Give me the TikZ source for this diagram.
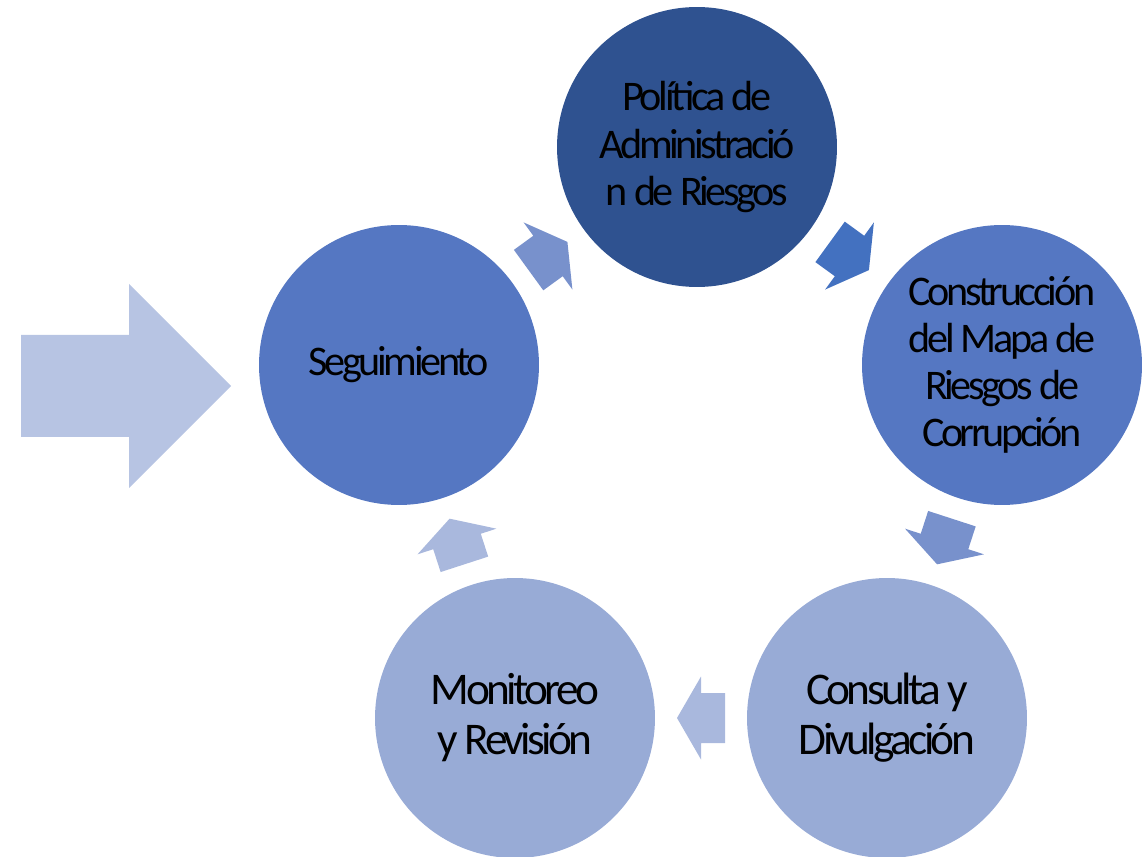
\documentclass[tikz,border=0pt]{standalone}
\usepackage{fontspec}
\newfontfamily\calibri{Carlito}[LetterSpace=-8]
\usetikzlibrary{calc}
\definecolor{azulosc}{RGB}{47,82,144}
\definecolor{azulmed}{RGB}{85,119,194}
\definecolor{azulcla}{RGB}{152,171,214}
\definecolor{flechagrande}{RGB}{183,196,227}
\definecolor{flechaA}{RGB}{120,145,204}
\definecolor{flechaB}{RGB}{67,113,192}
\definecolor{flechaC}{RGB}{169,184,221}
\tikzset{
  etapa/.style={circle, minimum size=5.6cm, inner sep=0pt, align=center, text=black,
    font=\calibri\fontsize{24}{26.8}\selectfont},
  etapagrande/.style={etapa, font=\calibri\fontsize{25.8}{28.4}\selectfont},
  pics/flecha/.style={code={
    \fill[#1] (-24,-25) -- (0,-25) -- (0,-41.5) -- (24,0) -- (0,41.5) -- (0,25) -- (-24,25) -- cycle;
  }}
}

\begin{document}
\begin{tikzpicture}[x=0.02cm, y=0.02cm]
    \useasboundingbox (0,0) rectangle (1146,856);

    % Flecha de entrada
    \fill[flechagrande] (21,419) -- (129,419) -- (129,368) -- (231,470)
        -- (129,572) -- (129,521) -- (21,521) -- cycle;

    % Etapas del ciclo
    \node[etapa, fill=azulosc] (pol) at (697,709) {Política de\\Administració\\n de Riesgos};
    \node[etapa, fill=azulmed] (cons) at (1002,491) {Construcción\\del Mapa de\\Riesgos de\\Corrupción};
    \node[etapagrande, fill=azulcla] (div) at (887,138) {Consulta y\\Divulgación};
    \node[etapagrande, fill=azulcla] (mon) at (515,138) {Monitoreo\\y Revisión};
    \node[etapa, fill=azulmed] (seg) at (399,491) {Seguimiento};

    % Flechas entre etapas
    \pic[rotate=36] at ($(seg)!0.5!(pol)$) {flecha=flechaA};
    \pic[rotate=-36] at ($(pol)!0.5!(cons)$) {flecha=flechaB};
    \pic[rotate=-108] at ($(cons)!0.5!(div)$) {flecha=flechaA};
    \pic[rotate=180] at ($(div)!0.5!(mon)$) {flecha=flechaC};
    \pic[rotate=108] at ($(mon)!0.5!(seg)$) {flecha=flechaC};

\end{tikzpicture}
\end{document}
